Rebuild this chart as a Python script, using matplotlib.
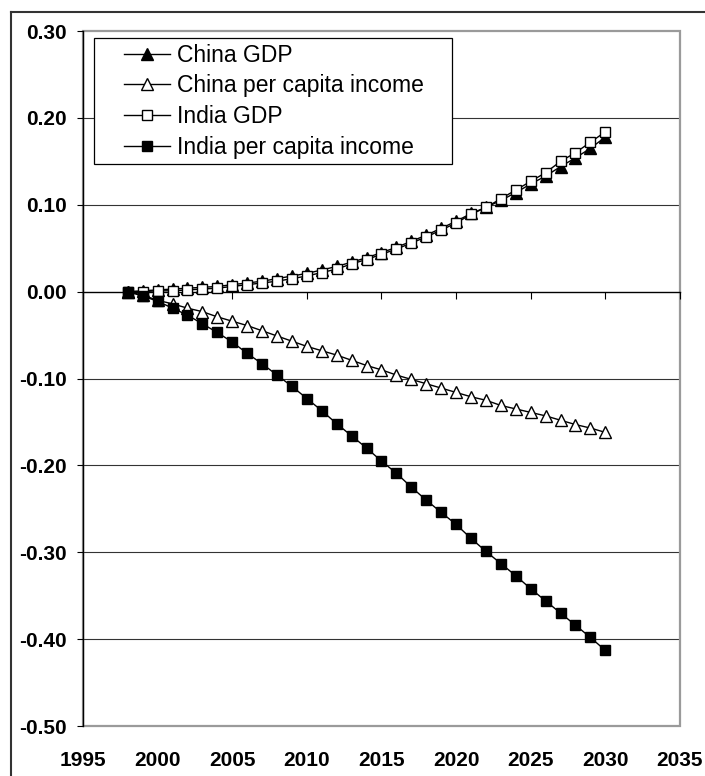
import matplotlib
matplotlib.use("Agg")
import matplotlib.pyplot as plt
from matplotlib.lines import Line2D
from matplotlib.patches import Rectangle

plt.rcParams.update({
    'font.family': ['Liberation Sans', 'DejaVu Sans'],
    'axes.unicode_minus': False,
})

years = list(range(1998, 2031))

china_gdp = [0.000, 0.001, 0.002, 0.003, 0.004, 0.005, 0.006, 0.008, 0.010,
             0.012, 0.015, 0.018, 0.021, 0.025, 0.029, 0.034, 0.039, 0.045,
             0.051, 0.058, 0.065, 0.073, 0.081, 0.090, 0.097, 0.105, 0.114,
             0.124, 0.133, 0.144, 0.154, 0.165, 0.178]
china_pci = [0.000, -0.004, -0.010, -0.014, -0.019, -0.023, -0.029, -0.034,
             -0.039, -0.045, -0.051, -0.057, -0.063, -0.068, -0.073, -0.079,
             -0.085, -0.090, -0.096, -0.101, -0.106, -0.111, -0.116, -0.121,
             -0.125, -0.131, -0.135, -0.139, -0.143, -0.148, -0.153, -0.157,
             -0.162]
india_gdp = [0.000, 0.000, 0.001, 0.001, 0.002, 0.003, 0.004, 0.006, 0.008,
             0.010, 0.012, 0.015, 0.018, 0.022, 0.026, 0.032, 0.037, 0.043,
             0.049, 0.056, 0.063, 0.071, 0.079, 0.089, 0.097, 0.107, 0.117,
             0.127, 0.137, 0.150, 0.160, 0.172, 0.184]
india_pci = [0.000, -0.005, -0.011, -0.019, -0.027, -0.037, -0.047, -0.058,
             -0.071, -0.083, -0.096, -0.109, -0.123, -0.137, -0.152, -0.166,
             -0.180, -0.195, -0.209, -0.225, -0.240, -0.254, -0.268, -0.284,
             -0.299, -0.313, -0.327, -0.342, -0.356, -0.370, -0.384, -0.398,
             -0.413]

series = [
    ("China GDP", china_gdp, "^", "black", 8),
    ("China per capita income", china_pci, "^", "white", 8),
    ("India GDP", india_gdp, "s", "white", 7),
    ("India per capita income", india_pci, "s", "black", 7),
]

xticks = list(range(1995, 2036, 5))
yticks = [-0.5, -0.4, -0.3, -0.2, -0.1, 0.0, 0.1, 0.2, 0.3]

fig = plt.figure(figsize=(7.05, 7.76), dpi=100)
ax = fig.add_axes([0.1177, 0.0644, 0.8468, 0.8956])

# outer chart border
fig.add_artist(Line2D([11 / 705, 1.0], [1 - 12 / 776, 1 - 12 / 776],
                      color="#333333", lw=1.5))
fig.add_artist(Line2D([11 / 705, 11 / 705], [1 - 12 / 776, 0.0],
                      color="#333333", lw=1.5))

for y in yticks:
    if y not in (0.0, -0.5, 0.3):
        ax.axhline(y, color="#333333", lw=0.8, zorder=0.5)

for label, vals, mk, fc, ms in series:
    ax.plot(years, vals, color="black", lw=1.0, marker=mk, ms=ms,
            mfc=fc, mec="black", mew=1.0, label=label, zorder=3)

ax.set_xlim(1995, 2035)
ax.set_ylim(-0.5, 0.3)

# gray plot-area frame
ax.add_patch(Rectangle((0, 0), 1, 1, transform=ax.transAxes, fill=False,
                       edgecolor="#9a9a9a", lw=1.6, zorder=1, clip_on=False))
ax.spines['top'].set_visible(False)
ax.spines['right'].set_visible(False)
ax.spines['left'].set_color("black")
ax.spines['left'].set_linewidth(1.0)
ax.spines['left'].set_zorder(2)
ax.spines['bottom'].set_position(('data', 0))
ax.spines['bottom'].set_color("black")
ax.spines['bottom'].set_linewidth(1.0)

ax.set_yticks(yticks)
ax.set_yticklabels([f"{v:.2f}" for v in yticks], fontsize=15,
                   fontweight="bold")
ax.tick_params(axis='y', direction='out', length=4.5, width=0.8, pad=7)

ax.set_xticks(xticks)
ax.tick_params(axis='x', direction='out', length=5, width=0.8,
               labelbottom=False)
for x in xticks:
    ax.text(x, -0.049, str(x), transform=ax.get_xaxis_transform(),
            ha="center", va="center", fontsize=15, fontweight="bold")

# legend box
ax.add_patch(Rectangle((0.0184, 0.8086), 0.5997, 0.1813,
                       transform=ax.transAxes, facecolor="white",
                       edgecolor="black", lw=0.9, zorder=4))
ax.legend(loc="upper left", bbox_to_anchor=(0.069, 0.982), frameon=False,
          fontsize=16.5, handlelength=2.0, handletextpad=0.3,
          labelspacing=0.34, borderpad=0, borderaxespad=0).set_zorder(5)

fig.savefig("out.png", dpi=100)
